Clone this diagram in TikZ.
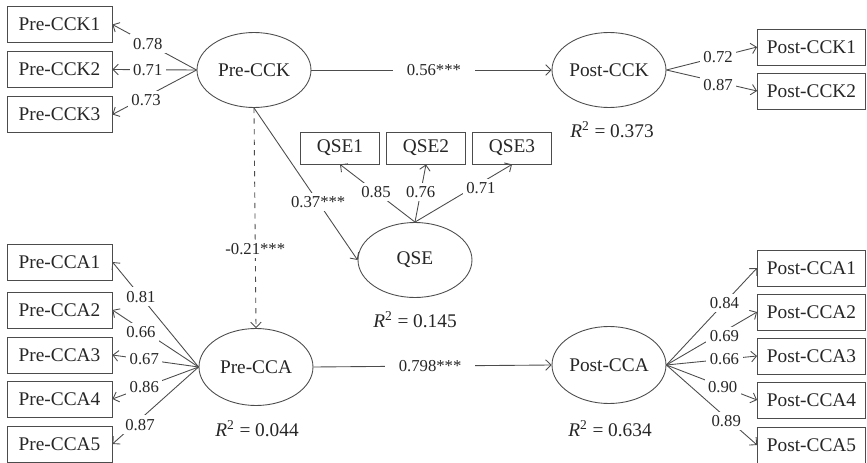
\documentclass[tikz,border=0pt]{standalone}
\usepackage{fontspec}
\setmainfont{Liberation Serif}
\usetikzlibrary{shapes.geometric}
\usetikzlibrary{arrows.meta}

\begin{document}
\begin{tikzpicture}[x=0.02cm,y=-0.02cm,
	var/.style={draw=black!70,line width=0.5pt,rectangle,minimum width=2.1cm,minimum height=0.72cm,inner sep=0pt,text=black!85,font=\fontsize{11}{13}\selectfont},
	qvar/.style={var,minimum width=1.58cm,minimum height=0.64cm},
	lat/.style={draw=black!70,line width=0.5pt,ellipse,minimum width=2.28cm,minimum height=1.5cm,inner sep=0pt,text=black!85,font=\fontsize{11}{13}\selectfont},
	lien/.style={draw=black!70,line width=0.5pt,-{Straight Barb[length=3pt,width=6pt]}},
	coef/.style={fill=white,inner sep=2pt,text=black!85,font=\fontsize{9.5}{11}\selectfont},
	rsq/.style={text=black!85,font=\fontsize{11}{13}\selectfont}]
\useasboundingbox (0,0) rectangle (867,463);

%Pre-CCK
\node[lat] (prcck) at (254,70) {Pre-CCK};
\node[var] (prcck1) at (59.5,24.5) {Pre-CCK1};
\node[var] (prcck2) at (59.5,69.5) {Pre-CCK2};
\node[var] (prcck3) at (59.5,114.5) {Pre-CCK3};
\draw[lien] (prcck.west) -- (prcck1.east) node[coef,pos=0.58]{0.78};
\draw[lien] (prcck.west) -- (prcck2.east) node[coef,pos=0.58]{0.71};
\draw[lien] (prcck.west) -- (prcck3.east) node[coef,pos=0.6,yshift=-2pt]{0.73};

%Post-CCK
\node[lat] (pocck) at (609,70) {Post-CCK};
\node[var,minimum width=2.16cm] (pocck1) at (811.5,47) {Post-CCK1};
\node[var,minimum width=2.16cm] (pocck2) at (811.5,91) {Post-CCK2};
\draw[lien] (pocck.east) -- (pocck1.west) node[coef,pos=0.57]{0.72};
\draw[lien] (pocck.east) -- (pocck2.west) node[coef,pos=0.57,yshift=-2pt]{0.87};
\node[rsq] (r2cck) at (612,130) {\textit{R}\textsuperscript{2} = 0.373};

%QSE
\node[lat] (qse) at (415,260) {QSE};
\node[qvar] (qse1) at (340,148) {QSE1};
\node[qvar] (qse2) at (426,148) {QSE2};
\node[qvar] (qse3) at (512,148) {QSE3};
\draw[lien] (qse.north) -- (qse1.south) node[coef,pos=0.52]{0.85};
\draw[lien] (qse.north) -- (qse2.south) node[coef,pos=0.52]{0.76};
\draw[lien] (qse.north) -- (qse3.south) node[coef,pos=0.68,yshift=-3pt]{0.71};
\node[rsq] (r2qse) at (415,320) {\textit{R}\textsuperscript{2} = 0.145};

%Pre-CCA
\node[lat,minimum height=1.54cm] (prcca) at (256,367) {Pre-CCA};
\node[var] (prcca1) at (59.5,262) {Pre-CCA1};
\node[var] (prcca2) at (59.5,310) {Pre-CCA2};
\node[var] (prcca3) at (59.5,355) {Pre-CCA3};
\node[var] (prcca4) at (59.5,399) {Pre-CCA4};
\node[var] (prcca5) at (59.5,444) {Pre-CCA5};
\draw[lien] (prcca.west) -- (prcca1.east) node[coef,pos=0.67]{0.81};
\draw[lien] (prcca.west) -- (prcca2.east) node[coef,pos=0.67,yshift=-2pt]{0.66};
\draw[lien] (prcca.west) -- (prcca3.east) node[coef,pos=0.63]{0.67};
\draw[lien] (prcca.west) -- (prcca4.east) node[coef,pos=0.63]{0.86};
\draw[lien] (prcca.west) -- (prcca5.east) node[coef,pos=0.68,yshift=-3pt]{0.87};
\node[rsq] (r2prcca) at (257,429) {\textit{R}\textsuperscript{2} = 0.044};

%Post-CCA
\node[lat,minimum height=1.54cm] (pocca) at (609,365) {Post-CCA};
\node[var,minimum width=2.16cm] (pocca1) at (811.5,268) {Post-CCA1};
\node[var,minimum width=2.16cm] (pocca2) at (811.5,312) {Post-CCA2};
\node[var,minimum width=2.16cm] (pocca3) at (811.5,356) {Post-CCA3};
\node[var,minimum width=2.16cm] (pocca4) at (811.5,400) {Post-CCA4};
\node[var,minimum width=2.16cm] (pocca5) at (811.5,445) {Post-CCA5};
\draw[lien] (pocca.east) -- (pocca1.west) node[coef,pos=0.64]{0.84};
\draw[lien] (pocca.east) -- (pocca2.west) node[coef,pos=0.64,yshift=-3pt]{0.69};
\draw[lien] (pocca.east) -- (pocca3.west) node[coef,pos=0.64]{0.66};
\draw[lien] (pocca.east) -- (pocca4.west) node[coef,pos=0.62]{0.90};
\draw[lien] (pocca.east) -- (pocca5.west) node[coef,pos=0.66,yshift=-2pt]{0.89};
\node[rsq] (r2pocca) at (610,429) {\textit{R}\textsuperscript{2} = 0.634};

%chemins structurels
\draw[lien] (prcck.east) -- (pocck.west) node[coef,pos=0.51,inner xsep=8pt]{0.56***};
\draw[lien] (prcca.east) -- (pocca.west) node[coef,pos=0.49,inner xsep=8pt]{0.798***};
\draw[lien] (prcck.south) -- (qse.west) node[coef,pos=0.62]{0.37***};
\draw[lien,dashed] (prcck.south) -- (prcca.north) node[coef,pos=0.64]{-0.21***};

\end{tikzpicture}
\end{document}
